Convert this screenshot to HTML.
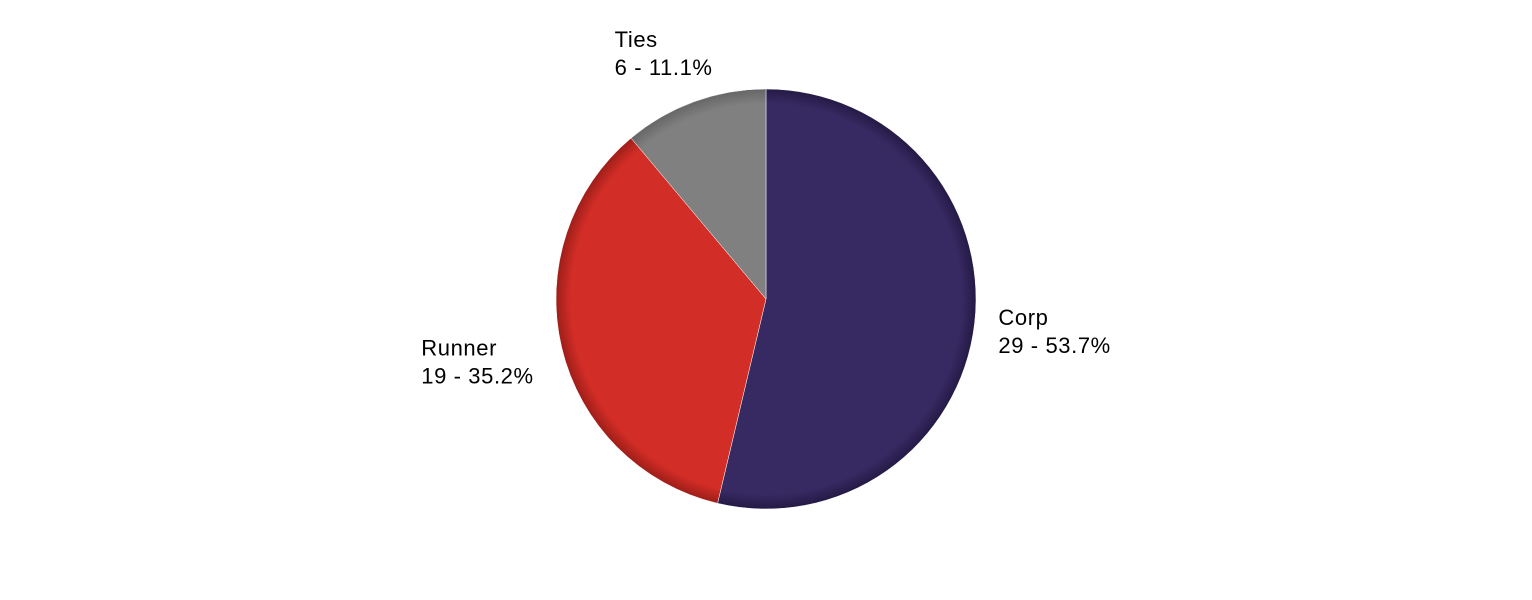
<!DOCTYPE html>
<html>
<head>
<meta charset="utf-8">
<style>
  html,body{margin:0;padding:0;background:#fff;}
  svg{display:block;}
  text{font-family:"Liberation Sans",Arial,sans-serif;font-size:22px;letter-spacing:0.6px;fill:#000;}
</style>
</head>
<body>
<svg id="chart" width="1532" height="600" viewBox="0 0 1532 600">
  <defs>
    <radialGradient id="g-corp" cx="766" cy="299" r="210" gradientUnits="userSpaceOnUse">
      <stop offset="0.93" stop-color="#372a63"/><stop offset="1" stop-color="#241a45"/>
    </radialGradient>
    <radialGradient id="g-runner" cx="766" cy="299" r="210" gradientUnits="userSpaceOnUse">
      <stop offset="0.93" stop-color="#d22d26"/><stop offset="1" stop-color="#9e1e19"/>
    </radialGradient>
    <radialGradient id="g-ties" cx="766" cy="299" r="210" gradientUnits="userSpaceOnUse">
      <stop offset="0.93" stop-color="#808080"/><stop offset="1" stop-color="#666"/>
    </radialGradient>
  </defs>
</svg>
<script>
const categories = ["Corp", "Runner", "Ties"];
const values = [29, 19, 6];
const fills = ["url(#g-corp)", "url(#g-runner)", "url(#g-ties)"];

const svg = document.getElementById('chart');
const NS = 'http://www.w3.org/2000/svg';
const cx = 766, cy = 299, r = 210;
const total = values.reduce((a, b) => a + b, 0);
let start = 0;
values.forEach((v, i) => {
  const frac = v / total;
  const a0 = start * 2 * Math.PI, a1 = (start + frac) * 2 * Math.PI;
  const x0 = cx + r * Math.sin(a0), y0 = cy - r * Math.cos(a0);
  const x1 = cx + r * Math.sin(a1), y1 = cy - r * Math.cos(a1);
  const large = frac > 0.5 ? 1 : 0;
  const p = document.createElementNS(NS, 'path');
  p.setAttribute('d', `M${cx},${cy} L${x0},${y0} A${r},${r} 0 ${large} 1 ${x1},${y1} Z`);
  p.setAttribute('fill', fills[i]);
  p.setAttribute('stroke', '#fff');
  p.setAttribute('stroke-width', '0.5');
  
  
  svg.appendChild(p);

  const am = (start + frac / 2) * 2 * Math.PI;
  const R = r + 22;
  const ax = cx + R * Math.sin(am), ay = cy - R * Math.cos(am);
  let lx, ly;
  const s = Math.sin(am), c = Math.cos(am);
  if (c > 0.7) { lx = ax - 72; ly = ay - 34; }
  else if (s >= 0) { lx = ax + 2; ly = ay - 1; }
  else { lx = ax - 119; ly = ay + 3; }
  const t = document.createElementNS(NS, 'text');
  t.setAttribute('x', lx);
  t.setAttribute('y', ly);
  
  
  const t1 = document.createElementNS(NS, 'tspan');
  t1.setAttribute('x', lx);
  t1.textContent = categories[i];
  const t2 = document.createElementNS(NS, 'tspan');
  t2.setAttribute('x', lx);
  t2.setAttribute('dy', '28');
  t2.textContent = v + ' - ' + (frac * 100).toFixed(1) + '%';
  t.appendChild(t1); t.appendChild(t2);
  svg.appendChild(t);
  start += frac;
});
</script>
</body>
</html>
